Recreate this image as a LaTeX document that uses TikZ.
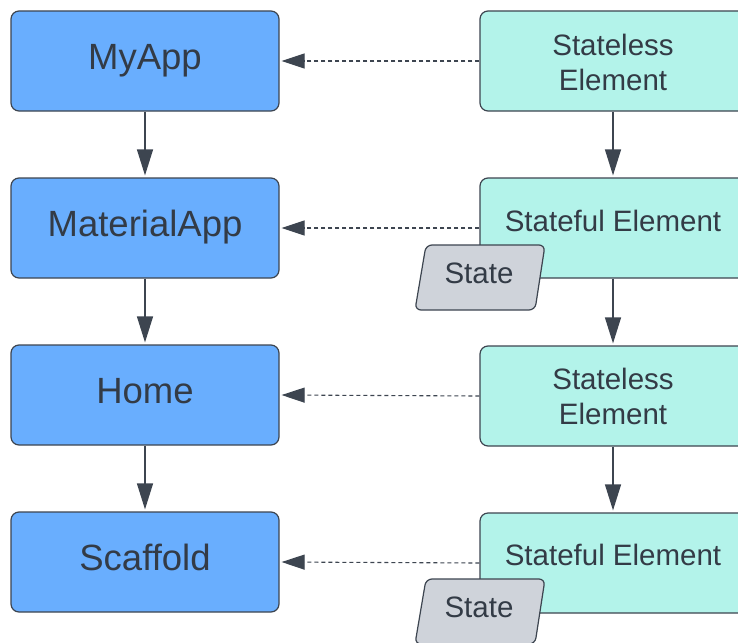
\documentclass[tikz,border=0pt]{standalone}
\usepackage{fontspec}
\setmainfont{Liberation Sans}
\usetikzlibrary{arrows.meta}
\definecolor{bluefill}{HTML}{69AEFE}
\definecolor{tealfill}{HTML}{B3F3EA}
\definecolor{statefill}{HTML}{CFD3DA}
\definecolor{edgecol}{HTML}{3D4550}
\definecolor{ink}{HTML}{333B46}
\begin{document}
\begin{tikzpicture}[x=1pt,y=-1pt,
 box/.style={draw=edgecol, line width=1.2pt, rounded corners=8pt, minimum width=268pt, minimum height=100pt, inner sep=0pt, text=ink},
 appbox/.style={box, fill=bluefill, font=\fontsize{36.5}{40}\selectfont, text height=26pt, text depth=10pt},
 elbox/.style={box, fill=tealfill, minimum width=266pt},
 eltext/.style={text=ink, font=\fontsize{29.5}{35}\selectfont, align=center, inner sep=0pt},
 flow/.style={draw=edgecol, line width=1.3pt, -{Triangle[length=26pt,width=16pt]}, shorten >=2pt},
 link/.style={draw=edgecol, line width=1.1pt, dash pattern=on 4pt off 3pt, -{Triangle[length=23pt,width=15pt]}, shorten >=2pt},
 statebox/.style={draw=edgecol, line width=1.2pt, fill=statefill, rounded corners=6pt}
]
\clip (0,0) rectangle (738,642);
\fill[white] (0,0) rectangle (738,642);

% left column
\node[appbox] (myapp) at (145,61) {MyApp};
\node[appbox] (material) at (145,228) {MaterialApp};
\node[appbox] (home) at (145,395) {Home};
\node[appbox] (scaffold) at (145,562) {Scaffold};

% right column
\node[elbox] (e1) at (613,61) {};
\node[elbox] (e2) at (613,228) {};
\node[elbox] (e3) at (613,396) {};
\node[elbox] (e4) at (613,563) {};

\node[eltext] (t1) at (613,62) {Stateless\\Element};
\node[eltext] (t2) at (613,221) {Stateful Element};
\node[eltext] (t3) at (613,396) {Stateless\\Element};
\node[eltext] (t4) at (613,555) {Stateful Element};

% vertical arrows
\draw[flow] (myapp.south) -- (material.north);
\draw[flow] (material.south) -- (home.north);
\draw[flow] (home.south) -- (scaffold.north);
\draw[flow] (e1.south) -- (e2.north);
\draw[flow] (e2.south) -- (e3.north);
\draw[flow] (e3.south) -- (e4.north);

% dashed links
\draw[link] (e1.west) -- (myapp.east);
\draw[link] (e2.west) -- (material.east);
\draw[link] (e3.west) -- (home.east);
\draw[link] (e4.west) -- (scaffold.east);

% state shapes
\draw[statebox] (426,245) -- (545,245) -- (535,310) -- (415,310) -- cycle;
\node[eltext] (s1) at (479,273) {State};
\draw[statebox] (426,579) -- (545,579) -- (535,644) -- (415,644) -- cycle;
\node[eltext] (s2) at (479,607) {State};
\end{tikzpicture}
\end{document}
